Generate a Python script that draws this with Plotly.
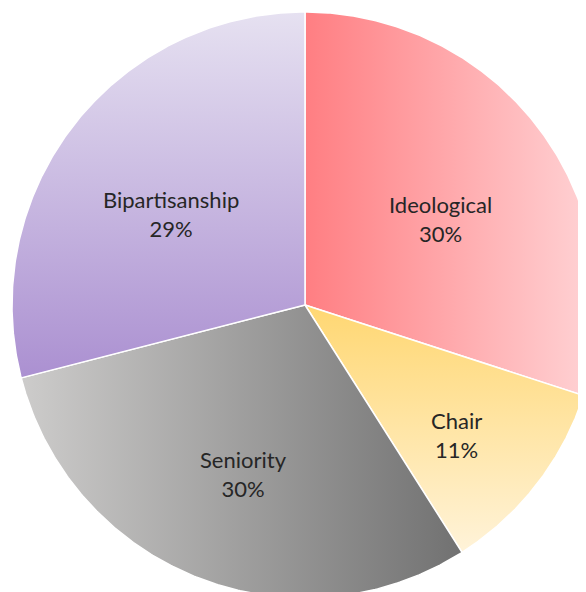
import numpy as np
import plotly.graph_objects as go

categories = ["Ideological", "Chair", "Seniority", "Bipartisanship"]
shares = [30, 11, 30, 29]
pct_labels = ["30%", "11%", "30%", "29%"]

# gradient styles per slice (type, colour at start, colour at stop)
grad_types = ["horizontal", "vertical", "horizontal", "vertical"]
grad_start_colors = ["#FF7E82", "#FFF3D9", "#CDCCCB", "#AB90D1"]
grad_stop_colors = ["#FFD4D6", "#FFD772", "#717171", "#E6E1F1"]

fig = go.Figure()
total = float(sum(shares))
cum = np.concatenate([[0.0], np.cumsum(shares)]) / total
label_x, label_y, label_text = [], [], []
for i, cat in enumerate(categories):
    a0, a1 = cum[i] * 2 * np.pi, cum[i + 1] * 2 * np.pi
    th = np.linspace(a0, a1, 240)
    xs = np.concatenate([[0.0], np.sin(th), [0.0]])
    ys = np.concatenate([[0.0], np.cos(th), [0.0]])
    if grad_types[i] == "horizontal":
        start, stop = xs.min(), xs.max()
    else:
        start, stop = ys.min(), ys.max()
    fig.add_trace(go.Scatter(
        x=xs, y=ys, mode="lines", fill="toself",
        line=dict(color="white", width=1.5),
        fillgradient=dict(type=grad_types[i], start=start, stop=stop,
                          colorscale=[[0, grad_start_colors[i]], [1, grad_stop_colors[i]]]),
        hoverinfo="skip", showlegend=False, name=cat))
    mid = (a0 + a1) / 2
    span = a1 - a0
    r = 4 * np.sin(span / 2) / (3 * span)  # sector centroid distance
    label_x.append(r * np.sin(mid))
    label_y.append(r * np.cos(mid))
    label_text.append(f"{cat}<br>{pct_labels[i]}")

for x, y, t in zip(label_x, label_y, label_text):
    fig.add_annotation(x=x, y=y, text=t, showarrow=False, yshift=-13,
                       font=dict(family="Lato", size=22, color="#262626"),
                       xanchor="center", yanchor="middle")

# the page body has an 8px margin; compensate so the pie sits as in the reference
R = 293.0
W, H = 578, 584
cx, cy = 297.0, 297.0
fig.update_layout(
    width=W, height=H,
    margin=dict(l=0, r=0, t=0, b=0),
    paper_bgcolor="white", plot_bgcolor="white",
    xaxis=dict(range=[-cx / R, (W - cx) / R], visible=False, fixedrange=True),
    yaxis=dict(range=[-(H - cy) / R, cy / R], visible=False, fixedrange=True),
)
fig.write_html("out.html")
